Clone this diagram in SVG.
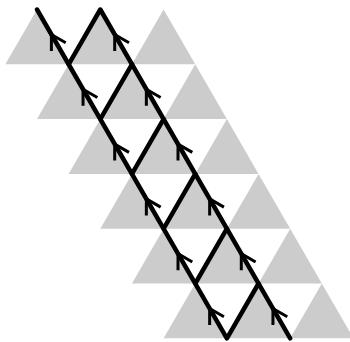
<svg xmlns="http://www.w3.org/2000/svg" xmlns:xlink="http://www.w3.org/1999/xlink" width="350" height="342" viewBox="0 0 350 342">
  <style>
    .tri { fill: #cccccc; stroke: none; }
    .rail { fill: none; stroke: #000000; stroke-width: 4.5; stroke-linecap: round; stroke-linejoin: round; }
    .arr { fill: none; stroke: #000000; stroke-width: 3; stroke-linecap: butt; stroke-linejoin: miter; }
  </style>
  <defs>
    <polygon id="t" class="tri" points="0,0 31.65,54.8 -31.65,54.8"/>
    <path id="a" class="arr" d="M0,16.5 L0,0 L14.3,8.25"/>
  </defs>
  <rect width="350" height="342" fill="#ffffff"/>
  <g id="triangles">
    <use xlink:href="#t" x="37" y="9.5"/>
    <use xlink:href="#t" x="100.3" y="9.5"/>
    <use xlink:href="#t" x="163.6" y="9.5"/>
    <use xlink:href="#t" x="68.65" y="64.3"/>
    <use xlink:href="#t" x="131.95" y="64.3"/>
    <use xlink:href="#t" x="195.25" y="64.3"/>
    <use xlink:href="#t" x="100.3" y="119.1"/>
    <use xlink:href="#t" x="163.6" y="119.1"/>
    <use xlink:href="#t" x="226.9" y="119.1"/>
    <use xlink:href="#t" x="131.95" y="173.9"/>
    <use xlink:href="#t" x="195.25" y="173.9"/>
    <use xlink:href="#t" x="258.55" y="173.9"/>
    <use xlink:href="#t" x="163.6" y="228.7"/>
    <use xlink:href="#t" x="226.9" y="228.7"/>
    <use xlink:href="#t" x="290.2" y="228.7"/>
    <use xlink:href="#t" x="195.25" y="283.5"/>
    <use xlink:href="#t" x="258.55" y="283.5"/>
    <use xlink:href="#t" x="321.85" y="283.5"/>
  </g>
  <g id="connectors">
    <path class="rail" d="M37,9.5 L226.9,338.3 L258.55,283.5"/>
    <path class="rail" d="M68.65,64.3 L100.3,9.5 L290.2,338.3"/>
    <path class="rail" d="M100.3,119.1 L131.95,64.3"/>
    <path class="rail" d="M131.95,173.9 L163.6,119.1"/>
    <path class="rail" d="M163.6,228.7 L195.25,173.9"/>
    <path class="rail" d="M195.25,283.5 L226.9,228.7"/>
    <use xlink:href="#a" x="51.4" y="34.5"/>
    <use xlink:href="#a" x="83.05" y="89.3"/>
    <use xlink:href="#a" x="114.7" y="144.1"/>
    <use xlink:href="#a" x="146.35" y="198.9"/>
    <use xlink:href="#a" x="178" y="253.7"/>
    <use xlink:href="#a" x="209.65" y="308.5"/>
    <use xlink:href="#a" x="114.7" y="34.5"/>
    <use xlink:href="#a" x="146.35" y="89.3"/>
    <use xlink:href="#a" x="178" y="144.1"/>
    <use xlink:href="#a" x="209.65" y="198.9"/>
    <use xlink:href="#a" x="241.3" y="253.7"/>
    <use xlink:href="#a" x="272.95" y="308.5"/>
  </g>
</svg>
